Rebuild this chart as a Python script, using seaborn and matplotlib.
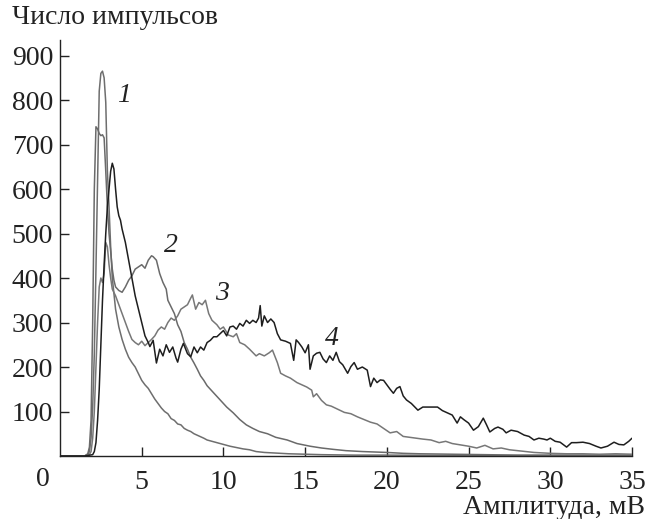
import matplotlib
matplotlib.use('Agg')
import matplotlib.pyplot as plt
import pandas as pd
import seaborn as sns

# Curve 1 (lowest amplitudes, highest narrow peak)
x1 = [0, 1.5, 1.7, 1.8, 1.9, 2.0, 2.1, 2.2, 2.3, 2.4, 2.5, 2.6, 2.7, 2.8, 2.9, 3.0, 3.1, 3.2,
      3.4, 3.6, 3.8, 4.0, 4.2, 4.4, 4.6, 4.8, 5.0, 5.2, 5.4, 5.6, 5.8, 6.0, 6.2, 6.4, 6.6, 6.8,
      7.0, 7.2, 7.4, 7.6, 7.8, 8.0, 8.2, 8.5, 8.8, 9.0, 9.3, 9.6, 10.0, 10.4, 10.8, 11.2, 11.6,
      12.0, 12.5, 13.0, 13.5, 14.0, 15.0, 16.0, 18.0, 20.0, 25.0, 30.0, 35.0]
y1 = [0, 0, 3, 10, 40, 110, 230, 420, 620, 820, 860, 865, 850, 795, 640, 560, 470, 400,
      330, 290, 262, 240, 222, 210, 200, 185, 170, 160, 152, 140, 128, 118, 108, 100, 95, 84,
      80, 72, 70, 62, 58, 55, 50, 45, 40, 36, 33, 30, 26, 22, 19, 16, 14,
      10, 8, 7, 6, 5, 4, 3, 2, 2, 1, 1, 1]

# Curve 2
x2 = [0, 1.5, 1.7, 1.8, 1.9, 2.0, 2.1, 2.2, 2.3, 2.4, 2.5, 2.6, 2.7, 2.8, 2.9, 3.0, 3.1, 3.2,
      3.3, 3.4, 3.6, 3.8, 4.0, 4.2, 4.4, 4.6, 4.8, 5.0, 5.2, 5.4, 5.6, 5.7, 5.9, 6.1, 6.3, 6.5,
      6.6, 6.8, 7.0, 7.2, 7.4, 7.6, 7.8, 8.0, 8.2, 8.4, 8.6, 8.8, 9.0, 9.2, 9.5, 9.8, 10.2,
      10.6, 11.0, 11.4, 11.8, 12.2, 12.7, 13.2, 13.9, 14.5, 15.3, 16.0, 16.7, 17.5, 18.5,
      20.0, 21.0, 22.0, 24.0, 26.0, 28.0, 30.0, 35.0]
y2 = [0, 0, 5, 20, 80, 300, 600, 740, 735, 725, 720, 722, 715, 640, 560, 500, 460, 420,
      395, 380, 372, 368, 380, 395, 405, 420, 425, 430, 422, 440, 450, 448, 440, 410, 390, 375,
      350, 335, 320, 295, 280, 255, 240, 222, 209, 195, 180, 170, 158, 150, 138, 126, 110,
      97, 82, 70, 62, 55, 50, 42, 36, 28, 22, 18, 15, 12, 10,
      8, 6, 5, 4, 3, 2, 2, 2]

# Curve 3
x3 = [0, 1.5, 1.8, 1.9, 2.0, 2.1, 2.2, 2.3, 2.4, 2.5, 2.6, 2.7, 2.8, 2.9, 3.0, 3.1, 3.2,
      3.4, 3.6, 3.8, 4.0, 4.2, 4.4, 4.6, 4.8, 5.0, 5.2, 5.4, 5.6, 5.8, 6.0, 6.2, 6.4, 6.6,
      6.8, 7.0, 7.2, 7.4, 7.6, 7.8, 8.0, 8.1, 8.3, 8.5, 8.7, 8.9, 9.1, 9.3, 9.6, 9.8, 10.0,
      10.3, 10.6, 10.8, 11.0, 11.3, 11.6, 12.0, 12.2, 12.5, 12.8, 13.0, 13.3, 13.5, 13.8,
      14.1, 14.5, 14.8, 15.1, 15.4, 15.5, 15.7, 16.0, 16.3, 16.6, 17.0, 17.4, 17.8, 18.2,
      18.6, 19.0, 19.4, 19.8, 20.2, 20.6, 21.0, 21.4, 21.8, 22.2, 22.7, 23.2, 23.6, 24.0,
      24.5, 25.0, 25.5, 26.0, 26.5, 27.0, 27.5, 28.0, 28.5, 29.0, 29.5, 30.0, 31.0, 32.0,
      33.0, 34.0, 35.0]
y3 = [0, 0, 3, 10, 40, 100, 200, 300, 380, 400, 390, 410, 480, 470, 430, 400, 375,
      360, 340, 320, 300, 280, 262, 255, 250, 258, 248, 255, 262, 270, 283, 290, 285, 300,
      310, 305, 315, 330, 335, 340, 355, 362, 330, 345, 340, 350, 320, 305, 295, 285, 290,
      272, 268, 275, 255, 250, 240, 225, 230, 225, 232, 238, 210, 186, 180,
      175, 165, 160, 155, 148, 133, 140, 125, 115, 112, 105, 98, 95, 88,
      82, 76, 72, 62, 52, 55, 44, 42, 40, 38, 36, 30, 33, 28,
      25, 22, 18, 24, 16, 18, 14, 12, 10, 8, 7, 6, 5, 5,
      4, 5, 4]

# Curve 4 (dark, broadest distribution)
x4 = [0, 1.5, 2.0, 2.1, 2.2, 2.3, 2.4, 2.5, 2.6, 2.7, 2.8, 2.9, 3.0, 3.1, 3.2, 3.3, 3.4,
      3.5, 3.6, 3.7, 3.8, 4.0, 4.2, 4.4, 4.6, 4.8, 5.0, 5.2, 5.4, 5.5, 5.7, 5.9, 6.1, 6.3,
      6.5, 6.7, 6.9, 7.1, 7.2, 7.4, 7.55, 7.8, 8.0, 8.2, 8.4, 8.6, 8.8, 9.0, 9.2, 9.4, 9.6,
      9.8, 10.0, 10.2, 10.4, 10.6, 10.8, 11.0, 11.2, 11.4, 11.6, 11.8, 12.0, 12.15, 12.25,
      12.35, 12.5, 12.7, 12.9, 13.1, 13.3, 13.5, 13.8, 14.1, 14.3, 14.45, 14.6, 14.8, 15.0,
      15.2, 15.3, 15.5, 15.7, 15.9, 16.1, 16.3, 16.5, 16.7, 16.9, 17.1, 17.3, 17.6, 17.8,
      18.0, 18.2, 18.5, 18.8, 19.0, 19.2, 19.4, 19.6, 19.8, 20.0, 20.2, 20.4, 20.6, 20.8,
      21.0, 21.2, 21.5, 21.9, 22.2, 22.6, 23.1, 23.4, 23.7, 24.0, 24.3, 24.5, 24.7, 25.0,
      25.3, 25.6, 25.9, 26.1, 26.3, 26.6, 26.8, 27.1, 27.3, 27.6, 28.0, 28.4, 28.7, 29.0,
      29.3, 29.6, 29.8, 30.0, 30.3, 30.6, 31.0, 31.3, 31.6, 32.0, 32.4, 32.8, 33.1, 33.5,
      33.9, 34.2, 34.5, 34.8, 35.0]
y4 = [0, 0, 3, 10, 30, 80, 150, 250, 350, 430, 500, 560, 600, 640, 658, 645, 600,
      560, 540, 530, 510, 480, 440, 400, 360, 330, 300, 270, 255, 246, 260, 209, 240, 225,
      250, 233, 245, 220, 211, 240, 253, 230, 223, 245, 232, 245, 238, 255, 260, 268, 268,
      275, 282, 270, 290, 292, 285, 298, 292, 305, 298, 305, 300, 310, 338,
      292, 315, 300, 308, 300, 275, 261, 258, 253, 215, 261, 255, 245, 232,
      250, 195, 225, 231, 233, 218, 210, 225, 215, 233, 212, 205, 186, 201,
      210, 195, 200, 193, 156, 175, 165, 171, 170, 160, 150, 141, 152, 156,
      135, 126, 118, 103, 110, 110, 110, 102, 97, 92, 74, 88, 82, 74,
      58, 66, 85, 70, 54, 62, 65, 60, 52, 58, 55, 47, 44, 36,
      40, 38, 36, 40, 33, 31, 20, 30, 30, 31, 28, 22, 18, 22,
      31, 26, 25, 33, 40]

curve_names = ['1', '2', '3', '4']
curve_colors = ['#6e6e6e', '#6a6a6a', '#777777', '#1e1e1e']
label_x = [3.92, 6.8, 9.92, 16.65]
label_y = [810, 474, 366, 263]

sns.set_style("ticks")
plt.rcParams['font.family'] = ['Liberation Serif', 'DejaVu Serif']

fig = plt.figure(figsize=(6.58, 5.19), dpi=100)
ax = fig.add_axes([60 / 658, 63 / 519, 572 / 658, 416 / 519])

series = [(x1, y1), (x2, y2), (x3, y3), (x4, y4)]
for (xs, ys), color in zip(series, curve_colors):
    df = pd.DataFrame({'x': xs, 'y': ys})
    sns.lineplot(data=df, x='x', y='y', ax=ax, color=color, linewidth=1.1,
                 estimator=None, sort=False)

for name, lx, ly in zip(curve_names, label_x, label_y):
    ax.text(lx, ly, name, fontsize=20, style='italic', color='#222222',
            ha='center', va='center')

ax.set_xlim(0, 35)
ax.set_ylim(0, 935)
ax.set_xticks([5, 10, 15, 20, 25, 30, 35])
ax.set_yticks([100, 200, 300, 400, 500, 600, 700, 800, 900])
ax.set_xlabel('')
ax.set_ylabel('')
ax.tick_params(direction='in', length=6.5, width=1, colors='#222222', labelsize=20)
ax.tick_params(axis='x', pad=10)
ax.tick_params(axis='y', pad=5)
for side in ['top', 'right']:
    ax.spines[side].set_visible(False)
for side in ['left', 'bottom']:
    ax.spines[side].set_color('#222222')
    ax.spines[side].set_linewidth(1)

fig.text(12 / 658, 1 - 18 / 519, 'Число импульсов', fontsize=20, color='#222222',
         ha='left', va='center')
fig.text(43 / 658, 1 - 479 / 519, '0', fontsize=20, color='#222222',
         ha='center', va='center')
fig.text(645 / 658, 1 - 508 / 519, 'Амплитуда, мВ', fontsize=20, color='#222222',
         ha='right', va='center')

fig.savefig('out.png', dpi=100)
